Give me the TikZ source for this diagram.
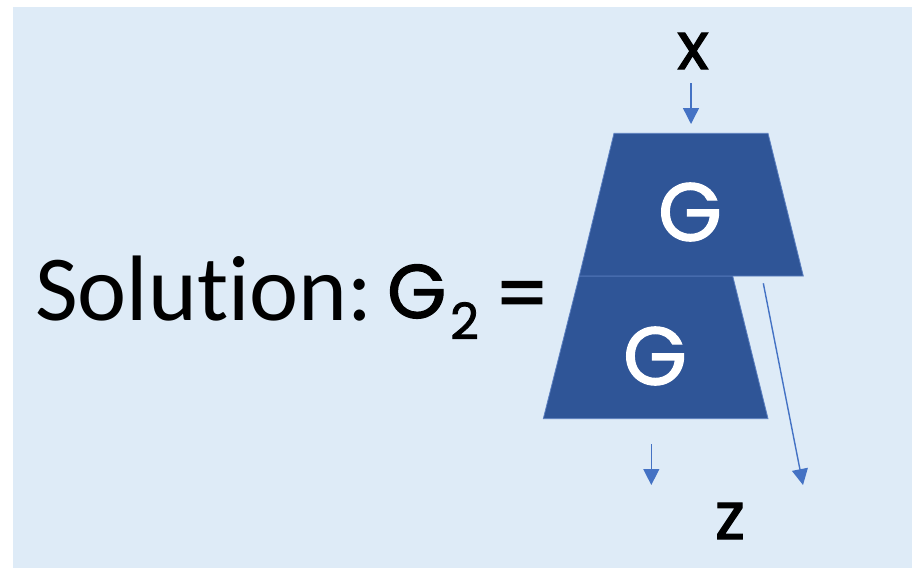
\documentclass[tikz,border=0pt]{standalone}
\usepackage{fontspec}
\setmainfont[Ligatures={NoCommon}]{Carlito}
\newfontfamily\comicfont[FakeBold=1.6]{Poppins}
\usetikzlibrary{arrows.meta}
\definecolor{bgblue}{HTML}{DEEBF7}
\definecolor{gblue}{HTML}{2F5597}
\definecolor{edgeblue}{HTML}{5B7FC0}
\definecolor{arrblue}{HTML}{4472C4}
\tikzset{
  gbox/.style={fill=gblue, draw=edgeblue, line width=0.8pt},
  glabel/.style={text=white, font=\comicfont\fontsize{82}{82}\selectfont, inner sep=0pt},
  varlabel/.style={text=black, font=\comicfont\fontsize{66}{66}\selectfont, inner sep=0pt},
  flow/.style={draw=arrblue, line width=1.4pt, -{Triangle[length=16pt,width=16pt]}},
}
\begin{document}
\begin{tikzpicture}[x=1pt,y=-1pt]
\useasboundingbox (0,0) rectangle (920,573);
\fill[bgblue] (13,7) rectangle (912,568);
% trapezoids
\draw[gbox] (579.3,276) -- (732.7,276) -- (768,418.7) -- (543.3,418.7) -- cycle;
\draw[gbox] (614,133.3) -- (768,133.3) -- (803.3,276) -- (579.3,276) -- cycle;
\node[glabel] (g1) at (690,212) {G};
\node[glabel] (g2) at (655,356) {G};
% labels
\node[varlabel] (x) at (693,51) {x};
\node[varlabel] (z) at (730,521) {z};
% arrows
\coordinate (xa) at (691,83);
\coordinate (xb) at (691,124);
\coordinate (la) at (651.3,444);
\coordinate (lb) at (651.3,485);
\coordinate (ra) at (763.3,283.3);
\coordinate (rb) at (803,485);
\draw[flow] (xa) -- (xb);
\draw[flow] (la) -- (lb);
\draw[flow] (ra) -- (rb);
% equation
\node[anchor=base west, inner sep=0pt, font=\fontsize{93}{93}\selectfont] (sol) at (35,320) {Solution:};
\node[anchor=base west, inner sep=0pt, font=\comicfont\fontsize{76}{76}\selectfont] (G) at (387,318) {G};
\node[anchor=base west, inner sep=0pt, font=\comicfont\fontsize{50}{50}\selectfont] (sub) at (450,339) {2};
\node[inner sep=0pt, font=\comicfont\fontsize{76}{76}\selectfont] (eq) at (522,301) {=};
\end{tikzpicture}
\end{document}
